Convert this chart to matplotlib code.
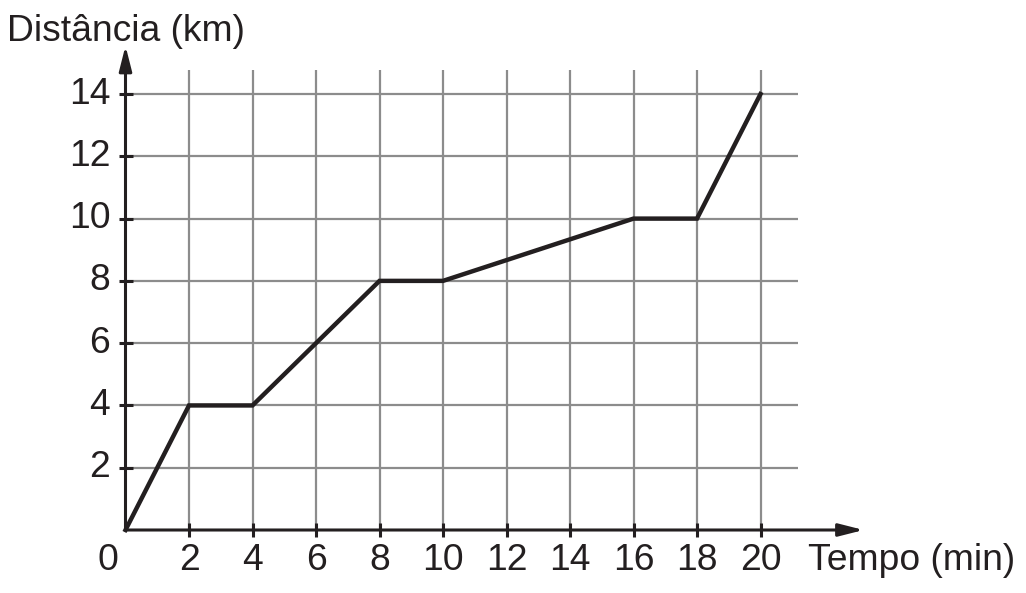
import matplotlib
matplotlib.use("Agg")
import matplotlib.pyplot as plt
import numpy as np

plt.rcParams['font.family'] = ['Liberation Sans', 'DejaVu Sans']

# data
tempo = [0, 2, 4, 8, 10, 16, 18, 20]
distancia = [0, 4, 4, 8, 8, 10, 10, 14]
x_ticks = [2, 4, 6, 8, 10, 12, 14, 16, 18, 20]
y_ticks = [2, 4, 6, 8, 10, 12, 14]
x_label = "Tempo (min)"
y_label = "Distância (km)"

dark = '#231f20'
gray = '#8c8c8c'

fig = plt.figure(figsize=(10.26, 5.93), dpi=100)
ax = fig.add_axes([0, 0, 1, 1])
# pixel -> data mapping: origin at (125.5, 530), 31.75 px/unit in x, 31.14 px/unit in y
ax.set_xlim(-125.5 / 31.75, (1026 - 125.5) / 31.75)
ax.set_ylim((530 - 593) / 31.14, 530 / 31.14)
ax.axis('off')

grid_right = 21.18
grid_top = 14.77

# grid
ax.vlines(x_ticks, 0, grid_top, colors=gray, lw=1.6, zorder=1)
ax.hlines(y_ticks, 0, grid_right, colors=gray, lw=1.6, zorder=1)

# axes with arrows
ax.annotate('', xy=(23.25, 0), xytext=(0, 0),
            arrowprops=dict(arrowstyle='-|>,head_length=1.5,head_width=0.38',
                            color=dark, lw=2.2, shrinkA=0, shrinkB=0), zorder=3)
ax.annotate('', xy=(0, 15.55), xytext=(0, 0),
            arrowprops=dict(arrowstyle='-|>,head_length=1.5,head_width=0.38',
                            color=dark, lw=2.2, shrinkA=0, shrinkB=0), zorder=3)

# tick marks crossing the axes
ax.vlines(x_ticks, -0.23, 0.23, colors=dark, lw=2.2, zorder=3)
ax.hlines(y_ticks, -0.2, 0.23, colors=dark, lw=2.2, zorder=3)

# tick labels
fs = 26.8
for xt in x_ticks:
    ax.text(xt, -0.97, str(xt), ha='center', va='center', fontsize=fs, color=dark)
ax.text(-0.55, -0.97, '0', ha='center', va='center', fontsize=fs, color=dark)
for yt in y_ticks:
    ax.text(-0.48, yt, str(yt), ha='right', va='center', fontsize=fs, color=dark)

# axis titles
ax.text(21.5, -0.97, x_label, ha='left', va='center', fontsize=fs, color=dark)
ax.text(-3.72, 16.02, y_label, ha='left', va='center', fontsize=fs, color=dark)

# data line
ax.plot(tempo, distancia, color=dark, lw=3.2, solid_joinstyle='miter', zorder=4)

fig.savefig('out.png', dpi=100)
